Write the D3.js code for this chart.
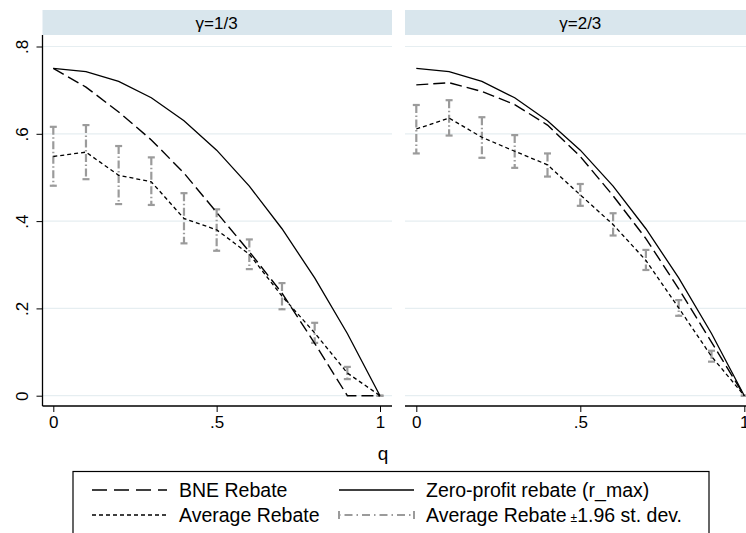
<!DOCTYPE html>
<html>
<head>
<meta charset="utf-8">
<script src="https://cdn.jsdelivr.net/npm/d3@7"></script>
<style>
  body { margin: 0; background: #fff; }
  text { font-family: "Liberation Sans", Arial, Helvetica, sans-serif; fill: #000; }
</style>
</head>
<body>
<div id="container"></div>
<script>
// data
var qVals = [0, .1, .2, .3, .4, .5, .6, .7, .8, .9, 1];
var panelTitles = ["γ=1/3", "γ=2/3"];

var rmax1 = [0.75, 0.7425, 0.72, 0.6825, 0.63, 0.5625, 0.48, 0.3825, 0.27, 0.1425, 0];
var bne1  = [0.75, 0.707, 0.65, 0.586, 0.51, 0.42, 0.33, 0.235, 0.12, 0, 0];
var avg1  = [0.548, 0.558, 0.505, 0.49, 0.406, 0.38, 0.324, 0.228, 0.144, 0.052, 0];
var lo1   = [0.481, 0.496, 0.439, 0.437, 0.349, 0.332, 0.29, 0.198, 0.121, 0.038, 0];
var hi1   = [0.616, 0.62, 0.572, 0.546, 0.464, 0.427, 0.358, 0.258, 0.167, 0.066, 0];

var rmax2 = [0.75, 0.7425, 0.72, 0.6825, 0.63, 0.5625, 0.48, 0.3825, 0.27, 0.1425, 0];
var bne2  = [0.712, 0.717, 0.697, 0.667, 0.62, 0.548, 0.458, 0.36, 0.245, 0.123, 0];
var avg2  = [0.611, 0.636, 0.592, 0.56, 0.529, 0.46, 0.392, 0.31, 0.201, 0.09, 0];
var lo2   = [0.555, 0.596, 0.545, 0.522, 0.502, 0.435, 0.367, 0.288, 0.183, 0.078, 0];
var hi2   = [0.666, 0.677, 0.638, 0.597, 0.555, 0.485, 0.418, 0.334, 0.219, 0.103, 0];

var yTicks = [0, .2, .4, .6, .8];
var xTicks = [0, .5, 1];
var fmt = d => d === 0 ? "0" : d === 1 ? "1" : String(d).replace(/^0/, "");

var width = 746, height = 533;
var svg = d3.select('#container').append('svg')
  .attr('width', width).attr('height', height);

var headTop = 10, headH = 25;
var plotTop = 35, plotBottom = 406;

var y = d3.scaleLinear().domain([0, .8]).range([395.7, 46.5]);

// panel layout (left edge, right edge, x range)
var panels = [
  { x0: 42.5, x1: 392, r: [53.3, 380], title: panelTitles[0], rmax: rmax1, bne: bne1, avg: avg1, lo: lo1, hi: hi1 },
  { x0: 405, x1: 756, r: [416.3, 744.3], title: panelTitles[1], rmax: rmax2, bne: bne2, avg: avg2, lo: lo2, hi: hi2 }
];

var ciColor = '#9b9b9b';
var ciDash = '8,2.5,1.5,2.5';

panels.forEach((p, pi) => {
  var x = d3.scaleLinear().domain([0, 1]).range(p.r);
  var g = svg.append('g');

  // header strip
  g.append('rect').attr('x', p.x0).attr('y', headTop)
    .attr('width', p.x1 - p.x0).attr('height', headH).attr('fill', '#d9e6ed');
  g.append('text').attr('x', (p.r[0] + p.r[1]) / 2).attr('y', headTop + 18.5)
    .attr('text-anchor', 'middle').style('font-size', '17px').text(p.title);

  // gridlines
  g.selectAll('.grid').data(yTicks).join('line')
    .attr('x1', p.x0).attr('x2', p.x1)
    .attr('y1', d => y(d)).attr('y2', d => y(d))
    .attr('stroke', '#e6eef1').attr('stroke-width', 1.2);

  // x axis
  var xAxis = g.append('g').attr('transform', `translate(0,${plotBottom})`)
    .call(d3.axisBottom(x).tickValues(xTicks).tickFormat(fmt).tickSize(6).tickSizeOuter(0).tickPadding(4));
  xAxis.select('.domain').remove();
  xAxis.append('line').attr('x1', p.x0).attr('x2', p.x1).attr('y1', 0).attr('y2', 0)
    .attr('stroke', '#000').attr('stroke-width', 1.3);
  xAxis.selectAll('.tick line').attr('stroke-width', 1);
  xAxis.selectAll('text').style('font-size', '17px').attr('fill', '#000');

  // y axis on the first panel only
  if (pi === 0) {
    var yAxis = g.append('g').attr('transform', `translate(${p.x0},0)`)
      .call(d3.axisLeft(y).tickValues(yTicks).tickFormat(fmt).tickSize(6).tickSizeOuter(0));
    yAxis.select('.domain').remove();
    yAxis.append('line').attr('x1', 0).attr('x2', 0).attr('y1', plotTop).attr('y2', plotBottom)
      .attr('stroke', '#000').attr('stroke-width', 1.3);
    yAxis.selectAll('.tick line').attr('stroke-width', 1);
    yAxis.selectAll('.tick text')
      .attr('x', 0).attr('y', 0).attr('dy', 0)
      .attr('text-anchor', 'middle')
      .attr('transform', 'translate(-15,0) rotate(-90)')
      .attr('fill', '#000').style('font-size', '17px');
  }

  var pts = qVals.map((q, i) => ({ q: q, rmax: p.rmax[i], bne: p.bne[i], avg: p.avg[i], lo: p.lo[i], hi: p.hi[i] }));

  // error bars (mean +- 1.96 sd)
  var ci = g.append('g');
  ci.selectAll('.bar').data(pts).join('line')
    .attr('x1', d => x(d.q)).attr('x2', d => x(d.q))
    .attr('y1', d => y(d.hi)).attr('y2', d => y(d.lo))
    .attr('stroke', ciColor).attr('stroke-width', 2.2).attr('stroke-dasharray', ciDash);
  ci.selectAll('.capt').data(pts).join('line')
    .attr('x1', d => x(d.q) - 3.5).attr('x2', d => x(d.q) + 3.5)
    .attr('y1', d => y(d.hi)).attr('y2', d => y(d.hi))
    .attr('stroke', ciColor).attr('stroke-width', 2.2);
  ci.selectAll('.capb').data(pts).join('line')
    .attr('x1', d => x(d.q) - 3.5).attr('x2', d => x(d.q) + 3.5)
    .attr('y1', d => y(d.lo)).attr('y2', d => y(d.lo))
    .attr('stroke', ciColor).attr('stroke-width', 2.2);

  var mk = key => d3.line().x(d => x(d.q)).y(d => y(d[key]));

  g.append('path').datum(pts).attr('d', mk('rmax'))
    .attr('fill', 'none').attr('stroke', '#000').attr('stroke-width', 1.3);
  g.append('path').datum(pts).attr('d', mk('bne'))
    .attr('fill', 'none').attr('stroke', '#000').attr('stroke-width', 1.4)
    .attr('stroke-dasharray', '12,5');
  g.append('path').datum(pts).attr('d', mk('avg'))
    .attr('fill', 'none').attr('stroke', '#000').attr('stroke-width', 1.3)
    .attr('stroke-dasharray', '4,3');
});

// x title
svg.append('text').attr('x', 383).attr('y', 460).attr('text-anchor', 'middle')
  .style('font-size', '19px').text('q');

// legend
var legendItems = [
  { label: 'BNE Rebate', kind: 'dash', col: 0, row: 0 },
  { label: 'Zero-profit rebate (r_max)', kind: 'solid', col: 1, row: 0 },
  { label: 'Average Rebate', kind: 'short', col: 0, row: 1 },
  { label: 'Average Rebate', kind: 'ci', col: 1, row: 1 }
];
var lg = svg.append('g');
lg.append('rect').attr('x', 73).attr('y', 471.5).attr('width', 636).attr('height', 80)
  .attr('fill', '#fff').attr('stroke', '#000').attr('stroke-width', 1.2);

var colX = [92, 339], symW = 75, rowY = [490, 515];
legendItems.forEach(it => {
  var sx = colX[it.col], sy = rowY[it.row];
  if (it.kind === 'ci') {
    lg.append('line').attr('x1', sx).attr('x2', sx + symW).attr('y1', sy).attr('y2', sy)
      .attr('stroke', ciColor).attr('stroke-width', 2.2).attr('stroke-dasharray', '1.5,4,8,4');
    [sx, sx + symW].forEach(cx => lg.append('line')
      .attr('x1', cx).attr('x2', cx).attr('y1', sy - 4).attr('y2', sy + 4)
      .attr('stroke', ciColor).attr('stroke-width', 2));
  } else {
    lg.append('line').attr('x1', sx).attr('x2', sx + symW).attr('y1', sy).attr('y2', sy)
      .attr('stroke', '#000').attr('stroke-width', 1.4)
      .attr('stroke-dasharray', it.kind === 'dash' ? '15,7' : it.kind === 'short' ? '4,3' : null);
  }
  var t = lg.append('text').attr('x', sx + symW + 12).attr('y', sy + 7).style('font-size', '19.5px');
  t.append('tspan').text(it.label);
  if (it.kind === 'ci') {
    t.append('tspan').attr('dx', 4).style('font-size', '12px').text('±');
    t.append('tspan').text('1.96 st. dev.');
  }
});
</script>
</body>
</html>
